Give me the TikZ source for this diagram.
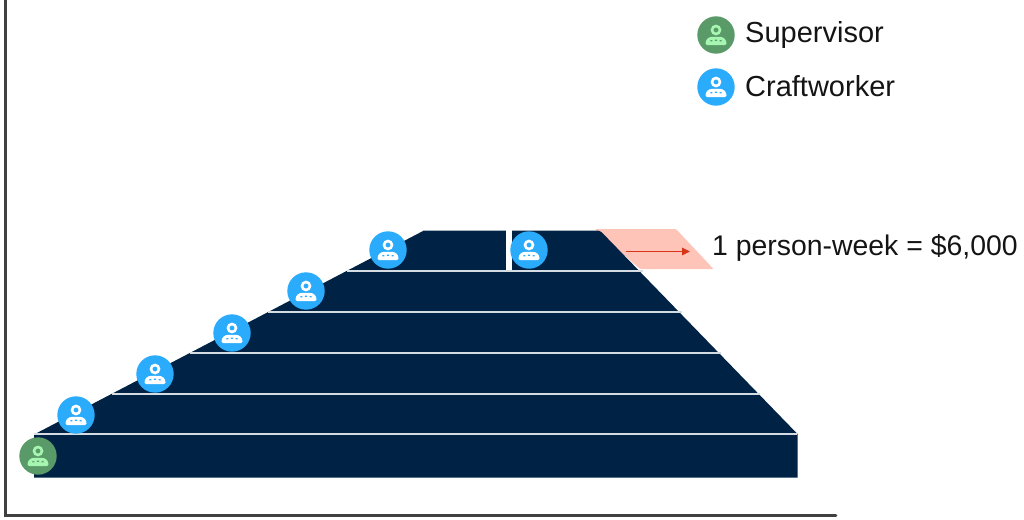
\documentclass[tikz,border=0pt]{standalone}
\usepackage{fontspec}
\setmainfont{Liberation Sans}
\usetikzlibrary{arrows.meta}
\definecolor{navy}{HTML}{002345}
\definecolor{skyb}{HTML}{2BABFC}
\definecolor{grn}{HTML}{5A9A68}
\definecolor{mint}{HTML}{A6F5B0}
\definecolor{pinkb}{HTML}{FFC4B8}
\definecolor{redar}{HTML}{D8341A}
\definecolor{axisc}{HTML}{404040}
\definecolor{sepl}{HTML}{D5DCE2}
\tikzset{
  axisline/.style={draw=axisc,line width=2.6pt},
  sepline/.style={draw=sepl,line width=1.3pt},
  lbl/.style={anchor=base west,inner sep=0pt,font=\fontsize{29}{32}\selectfont,text=black!92},
  pics/worker/.style 2 args={code={
    \fill[#1] (0,0) circle (18.7);
    \draw[#2,line width=2.6pt] (0,-5) circle (4);
    \fill[#2] (-10.5,8.5) .. controls (-10.5,4) and (-7,1.8) .. (-3.5,1.8) -- (3.5,1.8) .. controls (7,1.8) and (10.5,4) .. (10.5,8.5) .. controls (10.5,9.8) and (10,10.2) .. (9,10.2) -- (-9,10.2) .. controls (-10,10.2) and (-10.5,9.8) .. (-10.5,8.5) -- cycle;
    \fill[#1] (-5.6,5.2) rectangle (-3.6,6.4) (-1.1,4.6) rectangle (1.1,5.8) (3.6,5.2) rectangle (5.6,6.4);
  }}
}
\begin{document}
\begin{tikzpicture}[x=1pt,y=-1pt]
\useasboundingbox (0,0) rectangle (1024,519);
% pink extension
\fill[pinkb,rounded corners=1pt] (595,229) -- (676,229) -- (713.5,269) -- (640,269) -- cycle;
% main shape
\fill[navy] (34,477.5) -- (34,434.5) -- (424,230.5) [rounded corners=2pt] -- (425,230.5) -- (600,230.5) [sharp corners] -- (797.5,434) -- (797.5,477.5) -- cycle;
% separators
\draw[sepline] (34,434) -- (797,434);
\draw[sepline] (112,394) -- (760,394);
\draw[sepline] (190,353) -- (721,353);
\draw[sepline] (268,312) -- (682,312);
\draw[sepline] (347,271) -- (643,271);
\fill[white] (506,228) rectangle (511.5,270.3);
% axes
\coordinate (origin) at (5.5,515.5);
\coordinate (ytop) at (5.5,0);
\coordinate (xend) at (836,515.5);
\draw[axisline,line cap=round] (ytop) -- (origin) -- (xend);
% arrow
\coordinate (arrA) at (626,251.5);
\coordinate (arrB) at (690,251.5);
\draw[redar,line width=1.2pt,-{Triangle[length=8pt,width=7.5pt]}] (arrA) -- (arrB);
% workers
\pic at (38,456) {worker={grn}{mint}};
\pic at (76,415) {worker={skyb}{white}};
\pic at (155,374) {worker={skyb}{white}};
\pic at (232,333) {worker={skyb}{white}};
\pic at (306,291) {worker={skyb}{white}};
\pic at (388,250) {worker={skyb}{white}};
\pic at (529,250) {worker={skyb}{white}};
% legend
\pic at (716,35) {worker={grn}{mint}};
\pic at (716,87) {worker={skyb}{white}};
\node[lbl] (sup) at (745,42) {Supervisor};
\node[lbl] (cra) at (745,96) {Craftworker};
\node[lbl,font=\fontsize{28.4}{32}\selectfont] (pw) at (712,255) {1 person-week = \$6,000};
\end{tikzpicture}
\end{document}
